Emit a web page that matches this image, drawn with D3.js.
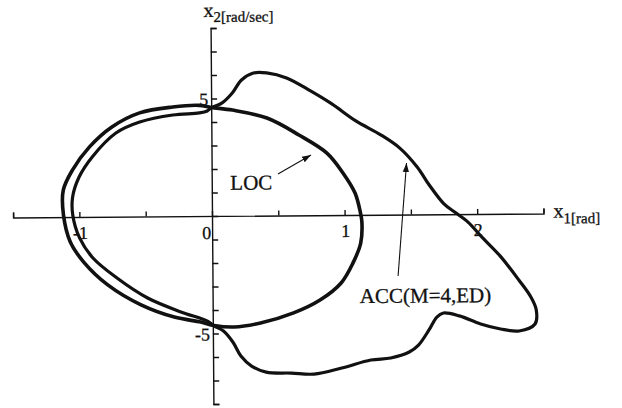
<!DOCTYPE html>
<html>
<head>
<meta charset="utf-8">
<script src="https://cdnjs.cloudflare.com/ajax/libs/d3/7.8.5/d3.min.js"></script>
<style>
  html, body { margin: 0; padding: 0; background: #fff; }
  svg { display: block; }
  .axis path, .axis line { stroke: #111; stroke-width: 1.4; }
  text { font-family: "Liberation Serif", "Times New Roman", serif; fill: #111; stroke: #111; stroke-width: 0.3; }
</style>
</head>
<body>
<svg id="phase" width="622" height="408"></svg>
<script>
const width = 622;
const height = 408;

/* DATA */
// limit of controllability (x1 [rad], x2 [rad/sec])
const locCurve = [
  [0.00, 4.62], [0.16, 4.50], [0.42, 4.15], [0.66, 3.42], [0.87, 2.64],
  [0.99, 1.79], [1.08, 0.93], [1.12, 0.08], [1.13, -0.30], [1.12, -1.20],
  [1.06, -2.05], [0.97, -2.89], [0.81, -3.61], [0.61, -4.15], [0.36, -4.57],
  [0.16, -4.73], [0.01, -4.66], [-0.09, -4.51], [-0.29, -4.29], [-0.54, -3.76],
  [-0.79, -2.90], [-0.97, -1.92], [-1.07, -1.06], [-1.12, 0.09], [-1.12, 1.15],
  [-1.05, 2.00], [-0.92, 2.98], [-0.75, 3.82], [-0.54, 4.41], [-0.29, 4.65],
  [-0.09, 4.71]
];

// accessible region, M=4, ED
const accCurve = [
  [0.00, 4.60], [0.08, 4.80], [0.16, 5.23], [0.23, 5.78], [0.32, 6.07],
  [0.42, 6.07], [0.57, 5.85], [0.75, 5.29], [0.91, 4.73], [1.09, 4.00],
  [1.28, 3.39], [1.42, 2.83], [1.55, 2.02], [1.64, 1.25], [1.75, 0.44],
  [1.83, 0.09], [1.93, -0.34], [2.04, -1.02], [2.17, -1.79], [2.31, -2.82],
  [2.40, -3.55], [2.44, -4.10], [2.43, -4.70], [2.31, -4.99], [2.17, -4.90],
  [2.02, -4.68], [1.86, -4.33], [1.74, -4.20], [1.69, -4.37], [1.63, -4.92],
  [1.55, -5.56], [1.48, -5.85], [1.34, -6.10], [1.19, -6.18], [0.97, -6.51],
  [0.76, -6.76], [0.59, -6.71], [0.40, -6.66], [0.29, -6.40], [0.21, -5.97],
  [0.15, -5.37], [0.08, -4.90], [0.01, -4.68], [-0.04, -4.47], [-0.24, -4.07],
  [-0.49, -3.47], [-0.72, -2.61], [-0.90, -1.75], [-1.00, -0.89], [-1.05, 0.09],
  [-1.05, 0.85], [-1.00, 1.70], [-0.90, 2.55], [-0.72, 3.56], [-0.54, 4.02],
  [-0.29, 4.31], [-0.09, 4.39], [-0.03, 4.47]
];

const xTicks = [-1.5, -1, -0.5, 0, 0.5, 1, 1.5, 2, 2.5];
const yTicks = [-8, -7, -6, -5, -4, -3, -2, -1, 0, 1, 2, 3, 4, 5, 6, 7, 8];
const xTickLabels = [[-1, "-1"], [1, "1"], [2, "2"]];
const yTickLabels = [[5, "5"], [-5, "-5"]];

// annotations: label text, label anchor, arrow tail, arrow head (data units)
const locNote = { text: "LOC", at: [0.14, 1.11], from: [0.50, 1.77], to: [0.75, 2.56] };
const accNote = { text: "ACC(M=4,ED)", at: [1.11, -3.75], from: [1.40, -2.61], to: [1.47, 2.19] };


/* SCALES */
const scales = {
  x: d3.scaleLinear().domain([-1.5, 2.5]).range([13.1, 543.5]),
  y: d3.scaleLinear().domain([-8, 8]).range([404, 28])
};

const svg = d3.select("svg#phase");
svg.append("rect").attr("width", width).attr("height", height).attr("fill", "#fff");

// scanned figure is slightly tilted
const plot = svg.append("g").attr("id", "plot")
  .attr("transform", "rotate(-0.43," + scales.x(0) + "," + scales.y(0) + ")");

const defs = svg.append("defs");
defs.append("marker")
  .attr("id", "head")
  .attr("viewBox", "0 0 10 10")
  .attr("refX", 10).attr("refY", 5)
  .attr("markerWidth", 9).attr("markerHeight", 9)
  .attr("markerUnits", "userSpaceOnUse")
  .attr("orient", "auto")
  .append("path")
  .attr("d", "M0,1.5L10,5L0,8.5Z")
  .attr("fill", "#111");


/* AXES */
const xAxis = d3.axisTop(scales.x).tickValues(xTicks).tickSize(5).tickSizeOuter(5).tickFormat("");
const yAxis = d3.axisRight(scales.y).tickValues(yTicks).tickSize(6).tickSizeOuter(6).tickFormat("");

plot.append("g").attr("class", "axis").attr("id", "x-axis")
  .attr("transform", translate(0, scales.y(0)))
  .call(xAxis);

plot.append("g").attr("class", "axis").attr("id", "y-axis")
  .attr("transform", translate(scales.x(0), 0))
  .call(yAxis);

// tick labels
plot.selectAll("text.xlab")
  .data(xTickLabels)
  .enter()
  .append("text")
  .attr("class", "xlab")
  .attr("x", d => scales.x(d[0]) + 1)
  .attr("y", scales.y(0) + 22)
  .attr("text-anchor", "middle")
  .attr("font-size", 18)
  .text(d => d[1]);

plot.append("text")
  .attr("x", scales.x(0) - 1)
  .attr("y", scales.y(0) + 23)
  .attr("text-anchor", "end")
  .attr("font-size", 18)
  .text("0");

plot.selectAll("text.ylab")
  .data(yTickLabels)
  .enter()
  .append("text")
  .attr("class", "ylab")
  .attr("x", scales.x(0) - 3)
  .attr("y", d => scales.y(d[0]) + 7)
  .attr("text-anchor", "end")
  .attr("font-size", 18)
  .text(d => d[1]);

// axis titles
const yTitle = plot.append("text")
  .attr("x", scales.x(0) - 7)
  .attr("y", 17)
  .attr("font-size", 20)
  .text("x");
yTitle.append("tspan").attr("dy", 5).attr("font-size", 15).text("2[rad/sec]");

const xTitle = plot.append("text")
  .attr("x", scales.x(2.5) + 10)
  .attr("y", scales.y(0) + 4)
  .attr("font-size", 20)
  .text("x");
xTitle.append("tspan").attr("dy", 6).attr("font-size", 15).text("1[rad]");


/* CURVES */
const line = d3.line()
  .x(d => scales.x(d[0]))
  .y(d => scales.y(d[1]))
  .curve(d3.curveCatmullRomClosed.alpha(0.5));

plot.append("path")
  .attr("id", "acc")
  .attr("d", line(accCurve))
  .attr("fill", "none")
  .attr("stroke", "#111")
  .attr("stroke-width", 3.2)
  .attr("stroke-linejoin", "round");

plot.append("path")
  .attr("id", "loc")
  .attr("d", line(locCurve))
  .attr("fill", "none")
  .attr("stroke", "#111")
  .attr("stroke-width", 3.6)
  .attr("stroke-linejoin", "round");


/* ANNOTATIONS */
[locNote, accNote].forEach(function(n) {
  plot.append("text")
    .attr("x", scales.x(n.at[0]))
    .attr("y", scales.y(n.at[1]))
    .attr("font-size", 21)
    .text(n.text);

  plot.append("line")
    .attr("x1", scales.x(n.from[0]))
    .attr("y1", scales.y(n.from[1]))
    .attr("x2", scales.x(n.to[0]))
    .attr("y2", scales.y(n.to[1]))
    .attr("stroke", "#111")
    .attr("stroke-width", 1.1)
    .attr("marker-end", "url(#head)");
});


/*
 * returns a translate string for the transform attribute
 */
function translate(x, y) {
  return 'translate(' + String(x) + ',' + String(y) + ')';
}
</script>
</body>
</html>
